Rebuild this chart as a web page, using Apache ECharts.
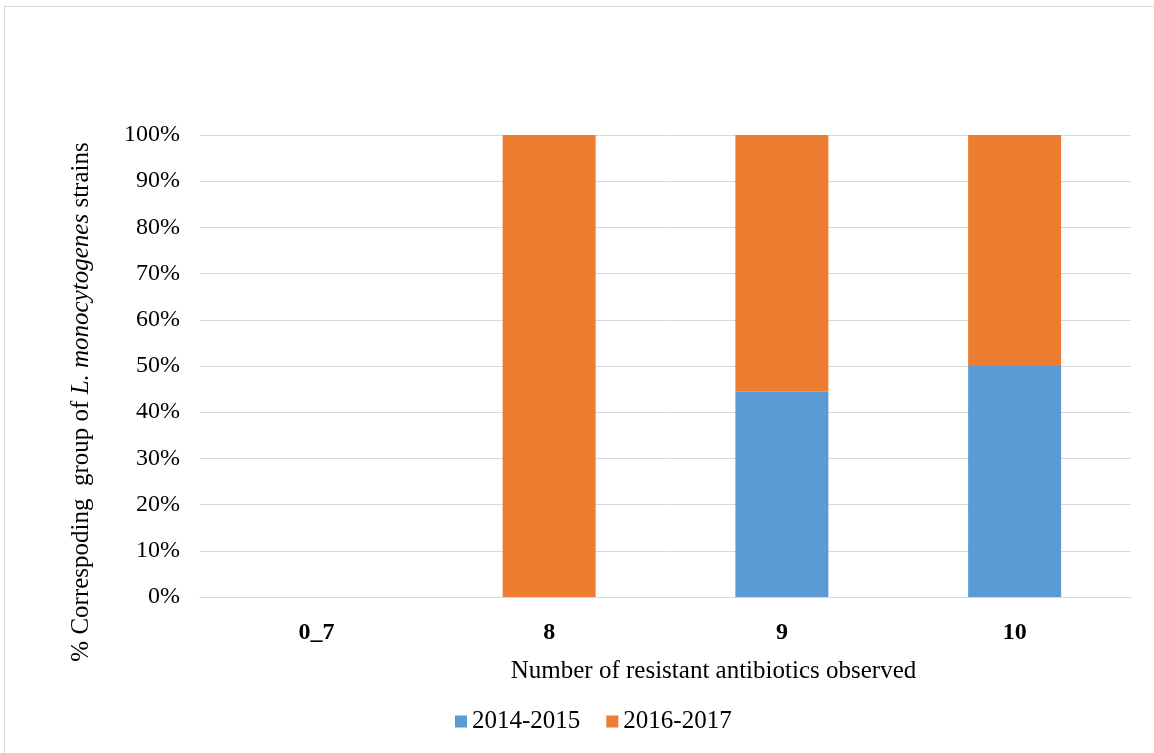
<!DOCTYPE html>
<html>
<head>
<meta charset="utf-8">
<script src="https://cdn.jsdelivr.net/npm/echarts@6/dist/echarts.min.js"></script>
<style>
  html, body { margin: 0; padding: 0; background: #fff; }
  #main { width: 1154px; height: 753px; }
  #frame { position: absolute; left: 4px; top: 6px; width: 1160px; height: 760px; border: 1px solid #d9d9d9; pointer-events: none; }
</style>
</head>
<body>
<div id="main"></div>
<div id="frame"></div>
<script>
// categories and values
var categories = ['0_7', '8', '9', '10'];
var seriesNames = ['2014-2015', '2016-2017'];
var share2014 = [0, 0, 44.4, 50];
var share2016 = [0, 100, 55.6, 50];
var yTicks = [0, 10, 20, 30, 40, 50, 60, 70, 80, 90, 100];

var serif = '"Liberation Serif", "Times New Roman", serif';
var myChart = echarts.init(document.getElementById('main'));

var option = {
    backgroundColor: '#ffffff',
    animation: false,
    textStyle: { fontFamily: serif, color: '#000' },
    grid: { left: 200, right: 23, top: 135, bottom: 156, containLabel: false },
    legend: {
        data: seriesNames,
        top: 704,
        left: 450,
        itemWidth: 12,
        itemHeight: 12,
        itemGap: 26,
        itemTextGap: 4,
        icon: 'rect',
        textStyle: { fontFamily: serif, fontSize: 25, color: '#000' }
    },
    xAxis: {
        type: 'category',
        data: categories,
        name: 'Number of resistant antibiotics observed',
        nameLocation: 'middle',
        nameGap: 62,
        nameTextStyle: { fontFamily: serif, fontSize: 25, color: '#000', padding: [0, 0, 0, 96] },
        axisTick: { show: false },
        axisLine: { lineStyle: { color: '#d9d9d9' } },
        axisLabel: { fontFamily: serif, fontSize: 24, fontWeight: 'bold', color: '#000', margin: 24 }
    },
    yAxis: {
        type: 'value',
        min: yTicks[0],
        max: yTicks[yTicks.length - 1],
        interval: 10,
        name: '{n|% Correspoding  group of }{i|L. monocytogenes}{n| strains}',
        nameLocation: 'middle',
        nameGap: 106,
        nameTextStyle: {
            padding: [0, 72, 0, 0],
            rich: {
                n: { fontFamily: serif, fontSize: 25, color: '#000' },
                i: { fontFamily: serif, fontSize: 25, color: '#000', fontStyle: 'italic' }
            }
        },
        axisLine: { show: false },
        axisTick: { show: false },
        splitLine: { lineStyle: { color: '#d9d9d9' } },
        axisLabel: { fontFamily: serif, fontSize: 24, color: '#000', margin: 20, formatter: '{value}%' }
    },
    series: [{
        name: seriesNames[0],
        type: 'bar',
        stack: 'total',
        barWidth: 93,
        data: share2014,
        itemStyle: { color: '#5b9bd5' }
    }, {
        name: seriesNames[1],
        type: 'bar',
        stack: 'total',
        barWidth: 93,
        data: share2016,
        itemStyle: { color: '#ed7d31' }
    }]
};
myChart.setOption(option);
</script>
</body>
</html>
